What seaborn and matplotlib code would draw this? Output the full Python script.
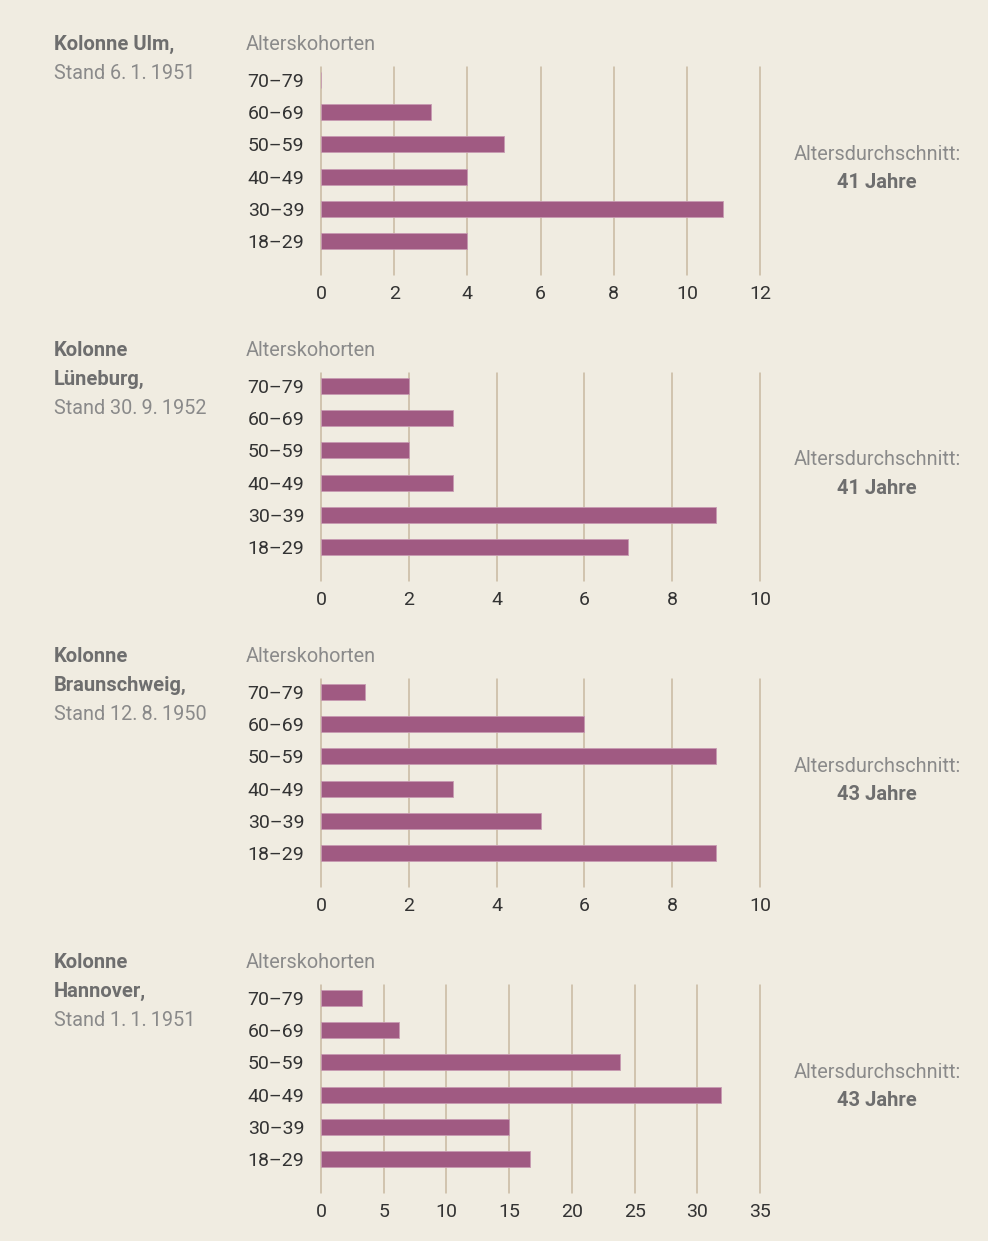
import numpy as np
import matplotlib
matplotlib.use('Agg')
import matplotlib.pyplot as plt
import seaborn as sns
import pandas as pd

# Altersgruppen, oben nach unten
kohorten = ['70–79', '60–69', '50–59', '40–49', '30–39', '18–29']

kolonnen = ['Kolonne Ulm,', 'Kolonne\nLüneburg,', 'Kolonne\nBraunschweig,', 'Kolonne\nHannover,']
stand = ['Stand 6.\u20091.\u20091951', 'Stand 30.\u20099.\u20091952',
         'Stand 12.\u20098.\u20091950', 'Stand 1.\u20091.\u20091951']
durchschnitt = ['41 Jahre', '41 Jahre', '43 Jahre', '43 Jahre']

ulm = [0, 3, 5, 4, 11, 4]
lueneburg = [2, 3, 2, 3, 9, 7]
braunschweig = [1, 6, 9, 3, 5, 9]
hannover = [3.3, 6.2, 23.8, 31.9, 15, 16.7]
werte = [ulm, lueneburg, braunschweig, hannover]

x_max = [12, 10, 10, 35]
x_step = [2, 2, 2, 5]

BG = '#F0ECE1'
BAR = '#A05A82'
GRID = '#C8B9A0'
DARK = '#333333'
GREY_B = '#6E6E6E'
GREY_L = '#8A8A8A'

sns.set_style('white')
plt.rcParams['font.family'] = ['Roboto', 'DejaVu Sans']

W, H = 988, 1241
fig = plt.figure(figsize=(W / 100, H / 100), dpi=100, facecolor=BG)


def fx(px):
    return px / W


def fy(py):
    return 1 - py / H


for i in range(4):
    off = 306 * i
    top, bottom = 67 + off, 275 + off
    ax = fig.add_axes([fx(321), fy(bottom), fx(760 - 321), (bottom - top) / H])
    ax.set_facecolor(BG)
    df = pd.DataFrame({'Kohorte': kohorten, 'Anzahl': werte[i]})
    sns.barplot(data=df, x='Anzahl', y='Kohorte', order=kohorten, orient='h',
                color=BAR, width=0.5, saturation=1, edgecolor='#C79AB2',
                linewidth=0.6, ax=ax)
    ax.set_xlim(0, x_max[i])
    ax.set_ylim(6.05, -0.4)
    ax.set_xticks(np.arange(0, x_max[i] + 1, x_step[i]))
    ax.grid(axis='x', color=GRID, lw=1.1)
    for gl in ax.get_xgridlines():
        gl.set_clip_on(False)
    ax.set_axisbelow(True)
    sns.despine(ax=ax, left=True, bottom=True)
    ax.tick_params(axis='x', length=0, pad=7, labelsize=14, labelcolor=DARK)
    ax.tick_params(axis='y', length=0, pad=12, labelsize=14, labelcolor=DARK)
    ax.set_xlabel('')
    ax.set_ylabel('')

    # Texte links und rechts
    fig.text(fx(246), fy(44 + off), 'Alterskohorten', fontsize=14.3, color=GREY_L,
             ha='left', va='center')
    lines = kolonnen[i].split('\n')
    for j, line in enumerate(lines):
        fig.text(fx(54), fy(44 + off + 29.5 * j), line, fontsize=14.5, color=GREY_B,
                 fontweight='bold', ha='left', va='center')
    fig.text(fx(54), fy(44 + off + 29.5 * len(lines)), stand[i], fontsize=14.3,
             color=GREY_L, ha='left', va='center')
    fig.text(fx(877), fy(154 + off), 'Altersdurchschnitt:', fontsize=14.3,
             color=GREY_L, ha='center', va='center')
    fig.text(fx(877), fy(182 + off), durchschnitt[i], fontsize=14.5,
             color=GREY_B, fontweight='bold', ha='center', va='center')

fig.savefig('out.png', dpi=100, facecolor=BG)
